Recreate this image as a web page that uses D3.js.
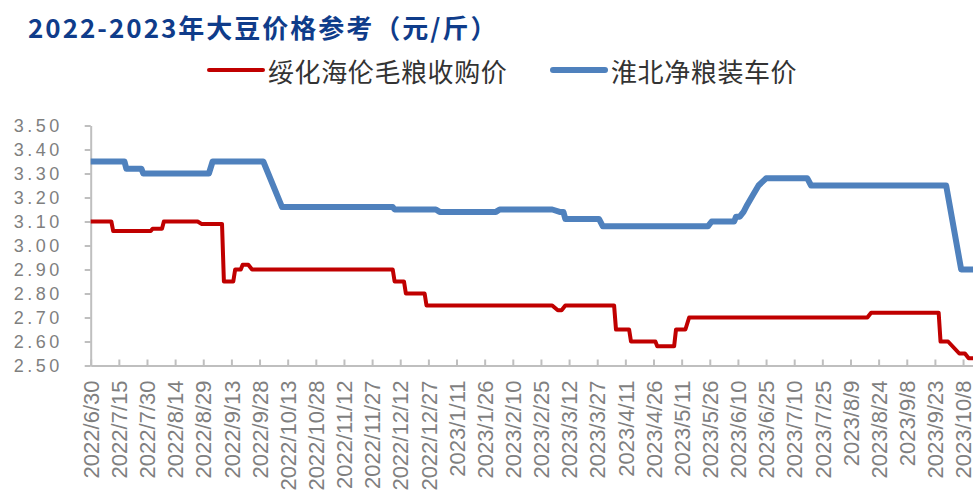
<!DOCTYPE html>
<html>
<head>
<meta charset="utf-8">
<script src="https://cdnjs.cloudflare.com/ajax/libs/d3/7.8.5/d3.min.js"></script>
<style>
  body { margin: 0; background: #fff; }
  svg { display: block; }
</style>
</head>
<body>
<div id="chart"></div>
<script>
// ---- data ----
const title = "2022-2023年大豆价格参考（元/斤）";
const seriesNames = ["绥化海伦毛粮收购价", "淮北净粮装车价"];

const suihuaDates = [
  "2022/6/30", "2022/7/11", "2022/7/12", "2022/8/1", "2022/8/2", "2022/8/7", "2022/8/8",
  "2022/8/26", "2022/8/28", "2022/9/8", "2022/9/9", "2022/9/14", "2022/9/15", "2022/9/18",
  "2022/9/19", "2022/9/22", "2022/9/24", "2022/12/8", "2022/12/9", "2022/12/14", "2022/12/15",
  "2022/12/25", "2022/12/26", "2023/3/3", "2023/3/6", "2023/3/8", "2023/3/10", "2023/4/5",
  "2023/4/6", "2023/4/13", "2023/4/14", "2023/4/27", "2023/4/28", "2023/5/7", "2023/5/8",
  "2023/5/13", "2023/5/15", "2023/8/18", "2023/8/20", "2023/9/25", "2023/9/26", "2023/9/30",
  "2023/10/6", "2023/10/9", "2023/10/11", "2023/10/15"
];
const suihuaPrices = [
  3.10, 3.10, 3.06, 3.06, 3.07, 3.07, 3.10,
  3.10, 3.09, 3.09, 2.85, 2.85, 2.90, 2.90,
  2.92, 2.92, 2.90, 2.90, 2.85, 2.85, 2.80,
  2.80, 2.75, 2.75, 2.73, 2.73, 2.75, 2.75,
  2.65, 2.65, 2.60, 2.60, 2.58, 2.58, 2.65,
  2.65, 2.70, 2.70, 2.72, 2.72, 2.60, 2.60,
  2.55, 2.55, 2.53, 2.53
];

const huaibeiDates = [
  "2022/6/30", "2022/7/18", "2022/7/19", "2022/7/27", "2022/7/28", "2022/9/1", "2022/9/3",
  "2022/9/30", "2022/10/10", "2022/12/8", "2022/12/9", "2022/12/31", "2023/1/2", "2023/2/1",
  "2023/2/3", "2023/3/3", "2023/3/7", "2023/3/9", "2023/3/10", "2023/3/28", "2023/3/30",
  "2023/5/25", "2023/5/27", "2023/6/8", "2023/6/9", "2023/6/11", "2023/6/13", "2023/6/15",
  "2023/6/18", "2023/6/21", "2023/6/25", "2023/7/17", "2023/7/19", "2023/9/29", "2023/10/7",
  "2023/10/15"
];
const huaibeiPrices = [
  3.35, 3.35, 3.32, 3.32, 3.30, 3.30, 3.35,
  3.35, 3.16, 3.16, 3.15, 3.15, 3.14, 3.14,
  3.15, 3.15, 3.14, 3.14, 3.11, 3.11, 3.08,
  3.08, 3.10, 3.10, 3.12, 3.12, 3.14, 3.17,
  3.21, 3.25, 3.28, 3.28, 3.25, 3.25, 2.90,
  2.90
];

const xTickLabels = [
  "2022/6/30", "2022/7/15", "2022/7/30", "2022/8/14", "2022/8/29", "2022/9/13", "2022/9/28",
  "2022/10/13", "2022/10/28", "2022/11/12", "2022/11/27", "2022/12/12", "2022/12/27",
  "2023/1/11", "2023/1/26", "2023/2/10", "2023/2/25", "2023/3/12", "2023/3/27", "2023/4/11",
  "2023/4/26", "2023/5/11", "2023/5/26", "2023/6/10", "2023/6/25", "2023/7/10", "2023/7/25",
  "2023/8/9", "2023/8/24", "2023/9/8", "2023/9/23", "2023/10/8"
];
const yTicks = [2.5, 2.6, 2.7, 2.8, 2.9, 3.0, 3.1, 3.2, 3.3, 3.4, 3.5];

// ---- layout ----
const width = 973;
const height = 492;
const left = 90.7;
const pxPerDay = 1.876;
const yTop = 125.5;
const yBottom = 365.5;

const parse = d3.timeParse("%Y/%m/%d");
const start = parse("2022/6/30");
const end = parse("2023/10/15");

const x = d3.scaleTime()
  .domain([start, end])
  .range([left, left + d3.timeDay.count(start, end) * pxPerDay]);

const y = d3.scaleLinear().domain([2.5, 3.5]).range([yBottom, yTop]);

const svg = d3.select("#chart")
  .append("svg")
  .attr("width", width)
  .attr("height", height)
  .attr("viewBox", [0, 0, width, height]);

// title
svg.append("text")
  .attr("x", 28)
  .attr("y", 26)
  .attr("dominant-baseline", "central")
  .attr("font-family", "'Noto Sans CJK SC', sans-serif")
  .attr("font-weight", "bold")
  .attr("font-size", 26)
  .attr("letter-spacing", 2)
  .attr("fill", "#0f3c8a")
  .text(title);

// legend
const legend = [
  { name: seriesNames[0], color: "#c00000", w: 4, x0: 209, x1: 263, tx: 268 },
  { name: seriesNames[1], color: "#4f81bd", w: 6, x0: 553, x1: 605, tx: 611 }
];
legend.forEach((l) => {
  svg.append("line")
    .attr("x1", l.x0).attr("x2", l.x1)
    .attr("y1", 70).attr("y2", 70)
    .attr("stroke", l.color)
    .attr("stroke-width", l.w)
    .attr("stroke-linecap", "round");
  svg.append("text")
    .attr("x", l.tx)
    .attr("y", 70)
    .attr("dominant-baseline", "central")
    .attr("font-family", "'Noto Sans CJK SC', sans-serif")
    .attr("font-size", 26)
    .attr("letter-spacing", 0.6)
    .attr("fill", "#333")
    .text(l.name);
});

// y axis
const yAxis = svg.append("g")
  .attr("transform", `translate(${left},0)`)
  .call(d3.axisLeft(y)
    .tickValues(yTicks)
    .tickSizeInner(6)
    .tickSizeOuter(0)
    .tickPadding(22)
    .tickFormat(d3.format(".2f")));
yAxis.selectAll(".domain, line").attr("stroke", "#bfbfbf").attr("stroke-width", 2);
yAxis.selectAll("text")
  .attr("font-family", "'Liberation Sans', Arial, sans-serif")
  .attr("font-size", 18)
  .attr("letter-spacing", 3.5)
  .attr("fill", "#7f7f7f");

// x axis
const xAxis = svg.append("g")
  .attr("transform", `translate(0,${yBottom})`)
  .call(d3.axisBottom(x)
    .tickValues(xTickLabels.map(parse))
    .tickSizeInner(-6)
    .tickSizeOuter(0)
    .tickFormat((d, i) => xTickLabels[i]));
xAxis.selectAll(".domain, line").attr("stroke", "#bfbfbf").attr("stroke-width", 2);
xAxis.selectAll("text")
  .attr("transform", "rotate(-90)")
  .attr("x", -15)
  .attr("y", 0)
  .attr("dy", "0.35em")
  .style("text-anchor", "end")
  .attr("font-family", "'Liberation Sans', Arial, sans-serif")
  .attr("font-size", 22)
  .attr("fill", "#7f7f7f");

// lines
const line = d3.line()
  .x((d) => x(d.date))
  .y((d) => y(d.value));

const suihua = suihuaDates.map((d, i) => ({ date: parse(d), value: suihuaPrices[i] }));
const huaibei = huaibeiDates.map((d, i) => ({ date: parse(d), value: huaibeiPrices[i] }));

svg.append("path")
  .datum(huaibei)
  .attr("fill", "none")
  .attr("stroke", "#4f81bd")
  .attr("stroke-width", 6)
  .attr("stroke-linejoin", "round")
  .attr("d", line);

svg.append("path")
  .datum(suihua)
  .attr("fill", "none")
  .attr("stroke", "#c00000")
  .attr("stroke-width", 4)
  .attr("stroke-linejoin", "round")
  .attr("d", line);
</script>
</body>
</html>
